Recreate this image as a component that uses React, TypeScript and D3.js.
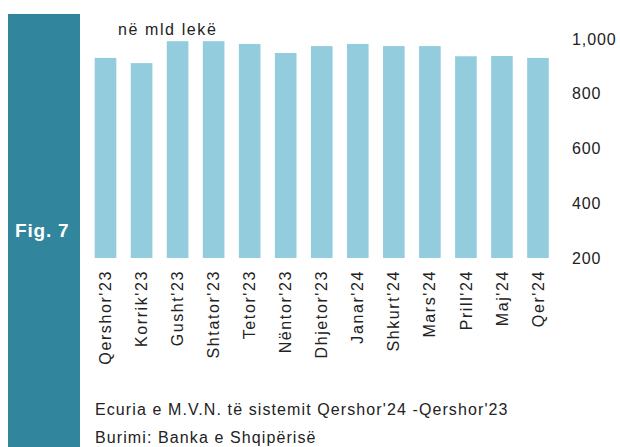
import React from "react";
import * as d3 from "d3";

const categories = ["Qershor'23", "Korrik'23", "Gusht'23", "Shtator'23", "Tetor'23", "Nëntor'23", "Dhjetor'23", "Janar'24", "Shkurt'24", "Mars'24", "Prill'24", "Maj'24", "Qer'24"];
const values = [931, 912, 992, 992, 982, 949, 974, 982, 974, 974, 937, 938, 931];
const yTicks = [200, 400, 600, 800, 1000];
const unitLabel = "në mld lekë";
const figLabel = "Fig. 7";
const caption1 = "Ecuria e M.V.N. të sistemit Qershor'24 -Qershor'23";
const caption2 = "Burimi: Banka e Shqipërisë";

const W = 620;
const H = 447;
const FONT = "'Liberation Sans', Arial, sans-serif";

export default function App() {
  const x = d3.scaleBand<string>().domain(categories).range([87.5, 556]).paddingInner(0.4).paddingOuter(0.2);
  const y = d3.scaleLinear().domain([200, 1000]).range([258, 39]);
  const fmt = d3.format(",");
  return (
    <svg width={W} height={H} style={{ position: "absolute", left: 0, top: 0, background: "#fff" }} fontFamily={FONT}>
      <rect x={8} y={14} width={72} height={H - 14} fill="#31859C" />
      <text x={15} y={237} fill="#fff" fontSize={19} fontWeight="bold" letterSpacing={0.8}>{figLabel}</text>
      <text x={118} y={35} fill="#222" fontSize={16} letterSpacing={1.6}>{unitLabel}</text>
      {categories.map((c, i) => (
        <rect key={c} x={x(c)} y={y(values[i])} width={x.bandwidth()} height={y(200) - y(values[i])} fill="#93CDDD" />
      ))}
      {yTicks.map((t) => (
        <text key={t} x={572} y={y(t)} dy="0.35em" fontSize={16} letterSpacing={0.9} fill="#222">{fmt(t)}</text>
      ))}
      {categories.map((c) => (
        <text key={c} transform={`translate(${(x(c) as number) + x.bandwidth() / 2},270) rotate(-90)`} textAnchor="end" dy="0.35em" fontSize={16} letterSpacing={1.6} fill="#222">{c}</text>
      ))}
      <text x={95} y={415} fontSize={16} letterSpacing={1.1} fill="#222">{caption1}</text>
      <text x={95} y={443} fontSize={16} letterSpacing={1.1} fill="#222">{caption2}</text>
    </svg>
  );
}
